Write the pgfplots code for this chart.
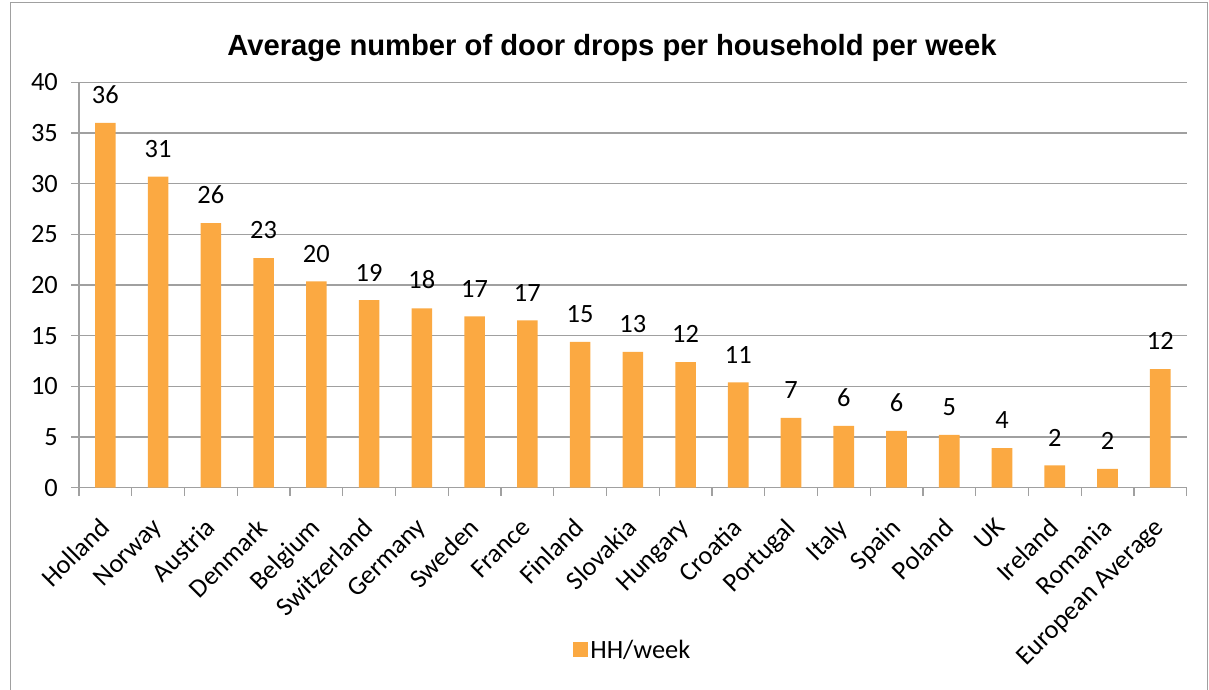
\documentclass[border=0pt]{standalone}
\usepackage{pgfplots}
\pgfplotsset{compat=1.18}
\usepackage{pgfplotstable}
\usepackage{fontspec}
\setmainfont{Carlito}
\newfontfamily\titlefont{Liberation Sans}
\definecolor{barc}{RGB}{251,169,66}
\definecolor{gridc}{RGB}{160,160,160}
\pgfplotstableread{
x y lab
0 36.0 36
1 30.7 31
2 26.1 26
3 22.65 23
4 20.35 20
5 18.5 19
6 17.7 18
7 16.9 17
8 16.5 17
9 14.4 15
10 13.4 13
11 12.4 12
12 10.4 11
13 6.9 7
14 6.1 6
15 5.6 6
16 5.2 5
17 3.9 4
18 2.2 2
19 1.85 2
20 11.7 12
}\data
\begin{document}
\begin{tikzpicture}
\useasboundingbox (0,0) rectangle (1209bp,690bp);
\draw[gridc, line width=1.5bp] (10.5bp,-10bp) -- (10.5bp,687.5bp) -- (1207.5bp,687.5bp) -- (1207.5bp,-10bp);
\node[font=\titlefont\bfseries\fontsize{29.3}{34}\selectfont] at (612bp,642bp) {Average number of door drops per household per week};
\begin{axis}[
  at={(79bp,202.3bp)}, anchor=south west,
  scale only axis, width=1107.7bp, height=405.4bp,
  xmin=-0.5, xmax=20.5, ymin=0, ymax=40,
  ybar, bar width=20.7bp, bar shift=0pt,
  axis x line*=bottom, axis y line*=left,
  xtick={0,...,20},
  xticklabels={Holland,Norway,Austria,Denmark,Belgium,Switzerland,Germany,Sweden,France,Finland,Slovakia,Hungary,Croatia,Portugal,Italy,Spain,Poland,UK,Ireland,Romania,European Average},
  major x tick style={draw=none},
  minor xtick={-0.5,0.5,...,20.5},
  ytick={0,5,...,40},
  tick align=outside,
  major tick length=8bp, minor tick length=8bp,
  axis line style={gridc, line width=1.3bp},
  tick style={gridc, line width=1.3bp},
  ymajorgrids, grid style={gridc, line width=1.3bp},
  /pgf/number format/assume math mode=true,
  tick label style={font=\fontsize{26.5}{31}\selectfont, black},
  xticklabel style={rotate=45, anchor=north east, inner sep=0pt, xshift=-20bp, yshift=-9.5bp},
  yticklabel style={inner sep=0pt, xshift=-13bp},
  nodes near coords,
  point meta=explicit symbolic,
  every node near coord/.style={font=\fontsize{26.5}{31}\selectfont, anchor=south, inner sep=0pt, yshift=19bp, black},
  legend style={at={(0.5,-0.4)}, anchor=center, draw=none, fill=none, font=\fontsize{26.5}{31}\selectfont},
  legend image code/.code={\fill[barc] (0bp,-7.5bp) rectangle (15bp,7.5bp);},
]
\addplot[fill=barc, draw=none] table[x=x, y=y, meta=lab] {\data};
\addlegendentry{HH/week}
\end{axis}
\end{tikzpicture}
\end{document}
